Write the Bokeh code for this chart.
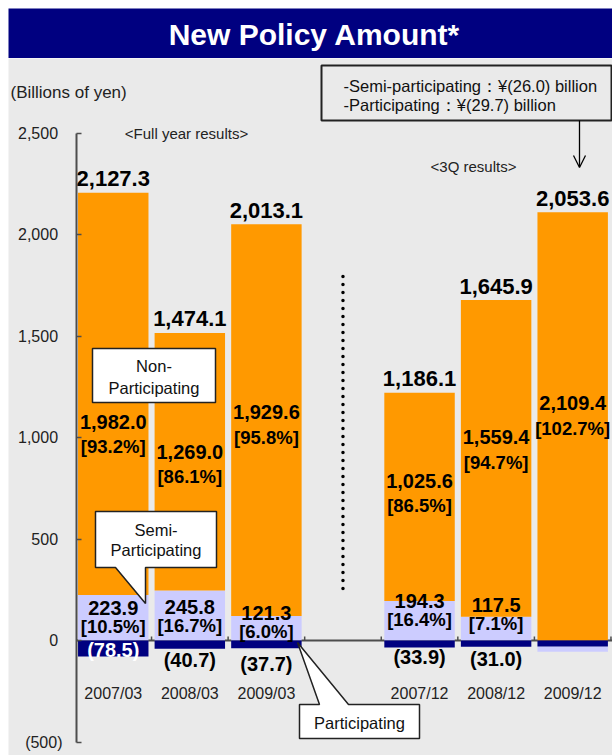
from bokeh.plotting import figure
from bokeh.layouts import column, row
from bokeh.models import Range1d, FixedTicker, Arrow, OpenHead, Spacer
from bokeh.core.properties import value
from bokeh.embed import file_html
from bokeh.resources import INLINE

# ---------------- data ----------------
periods = ["2007/03", "2008/03", "2009/03", "2007/12", "2008/12", "2009/12"]
groups = ["full", "full", "full", "3q", "3q", "3q"]
total = [2127.3, 1474.1, 2013.1, 1186.1, 1645.9, 2053.6]
non_participating = [1982.0, 1269.0, 1929.6, 1025.6, 1559.4, 2109.4]
non_pct = [93.2, 86.1, 95.8, 86.5, 94.7, 102.7]
semi_participating = [223.9, 245.8, 121.3, 194.3, 117.5, -26.0]
semi_pct = [10.5, 16.7, 6.0, 16.4, 7.1, None]
participating = [-78.5, -40.7, -37.7, -33.9, -31.0, -29.7]
y_ticks = [-500, 0, 500, 1000, 1500, 2000, 2500]
note_lines = ["-Semi-participating\uff1a\u00a5(26.0) billion",
              "-Participating\uff1a\u00a5(29.7) billion"]

# ---------------- style / layout ----------------
BG = "#EAEAEA"
ORANGE = "#FF9900"
LAV = "#CCCCFF"
NAVY = "#000080"
AXIS = "#4D4D4D"
FONT = "Liberation Sans"

MARGIN = 8
FIG_W = 604
TITLE_H = 50
MAIN_H = 697
AXIS_PX = 76            # page x of the value axis
PLOT_X0, PLOT_X1 = -0.48, 6.52   # slot units at axis and right edge
UPP_X = (PLOT_X1 - PLOT_X0) / (MARGIN + FIG_W - AXIS_PX)
X0 = PLOT_X0 - (AXIS_PX - MARGIN) * UPP_X
X1 = PLOT_X1
Y0, Y1 = -566.5, 2867.0
PAGE_FT = MARGIN + TITLE_H
UPP_Y = (Y1 - Y0) / MAIN_H


def px_x(px):
    return X0 + (px - MARGIN) * UPP_X


def px_y(py):
    return Y1 - (py - PAGE_FT) * UPP_Y


def dpx(d):
    return -d * UPP_Y


# label pixel offsets (layout only)
non_dy = [28, -10, -8, -16, -21, -23]
semi_dy = [-33, -34, -28, -40, -36, 0]
part_dy = [9, 19, 23, 16, 18, 0]

# slot positions: one empty slot between the two groups
slots = []
k = 0
prev = None
gap_slot = None
for g in groups:
    if prev is not None and g != prev:
        gap_slot = k
        k += 1
    slots.append(k)
    k += 1
    prev = g

BAR_W = 0.92

# ---------------- title figure ----------------
tf = figure(width=FIG_W, height=TITLE_H, x_range=Range1d(0, FIG_W), y_range=Range1d(0, TITLE_H),
            toolbar_location=None, output_backend="svg", min_border=0,
            x_axis_location=None, y_axis_location=None,
            background_fill_color=NAVY, border_fill_color=NAVY, outline_line_color=None)
tf.grid.visible = False
tf.text(x=[FIG_W / 2 + 4], y=[TITLE_H / 2 - 1], text=["New Policy Amount*"],
        text_font=value(FONT), text_font_style="bold", text_font_size="30px",
        text_color="white", text_align="center", text_baseline="middle")

# ---------------- main figure ----------------
p = figure(width=FIG_W, height=MAIN_H, x_range=Range1d(X0, X1), y_range=Range1d(Y0, Y1),
           toolbar_location=None, output_backend="svg", min_border=0,
           x_axis_location=None,
           background_fill_color=BG, border_fill_color=BG, outline_line_color=None)
p.grid.visible = False

ax = p.yaxis[0]
ax.fixed_location = PLOT_X0
ax.ticker = FixedTicker(ticks=y_ticks)
ax.major_label_overrides = {t: ("({:,})".format(-t) if t < 0 else "{:,}\u00a0".format(t)) for t in y_ticks}
ax.bounds = (min(y_ticks), max(y_ticks))
ax.axis_line_color = AXIS
ax.axis_line_width = 2
ax.major_tick_line_color = AXIS
ax.major_tick_line_width = 1.5
ax.major_tick_in = 5
ax.major_tick_out = 0
ax.minor_tick_line_color = None
ax.major_label_standoff = 14
ax.major_label_text_font = FONT
ax.major_label_text_font_size = "16px"
ax.major_label_text_color = "#222222"

# zero line with category-boundary ticks
p.segment(x0=[PLOT_X0], y0=[0], x1=[PLOT_X1], y1=[0], line_color=AXIS, line_width=2)
bounds_x = [s + 0.5 for s in range(slots[-1] + 1)]
p.segment(x0=bounds_x, y0=[0] * len(bounds_x), x1=bounds_x, y1=[dpx(-4)] * len(bounds_x),
          line_color=AXIS, line_width=1.5)

# stacked bars
pos_base = [max(s, 0) for s in semi_participating]
non_top = [b + n for b, n in zip(pos_base, non_participating)]
semi_bottom = [0 if s > 0 else pp + s for s, pp in zip(semi_participating, participating)]
semi_top = [s if s > 0 else pp for s, pp in zip(semi_participating, participating)]

p.vbar(x=slots, width=BAR_W, bottom=semi_bottom, top=semi_top, fill_color=LAV, line_color=None)
p.vbar(x=slots, width=BAR_W, bottom=pos_base, top=non_top, fill_color=ORANGE, line_color=None)
p.vbar(x=slots, width=BAR_W, bottom=participating, top=[0] * len(slots), fill_color=NAVY, line_color=None)

bold = dict(text_font=value(FONT), text_font_style="bold", text_align="center",
            text_baseline="middle")

# totals
p.text(x=slots, y=[t + dpx(-14) for t in non_top], text=["{:,.1f}".format(v) for v in total],
       text_font_size="22px", text_color="black", **bold)

# non-participating
mid = [b + n / 2 for b, n in zip(pos_base, non_participating)]
p.text(x=slots, y=[m + dpx(d) for m, d in zip(mid, non_dy)],
       text=["{:,.1f}".format(v) for v in non_participating], text_font_size="20px",
       text_color="black", **bold)
p.text(x=slots, y=[m + dpx(d + 25) for m, d in zip(mid, non_dy)],
       text=["[{:.1f}%]".format(v) for v in non_pct], text_font_size="18.5px",
       text_color="black", **bold)

# semi-participating & participating labels
shown = [i for i, v in enumerate(semi_pct) if v is not None]
p.text(x=[slots[i] for i in shown], y=[dpx(semi_dy[i]) for i in shown],
       text=["{:,.1f}".format(semi_participating[i]) for i in shown], text_font_size="20px",
       text_color="black", **bold)
p.text(x=[slots[i] for i in shown], y=[dpx(semi_dy[i] + 19) for i in shown],
       text=["[{:.1f}%]".format(semi_pct[i]) for i in shown], text_font_size="18.5px",
       text_color="black", **bold)
p.text(x=[slots[i] for i in shown], y=[dpx(part_dy[i]) for i in shown],
       text=["({:,.1f})".format(-participating[i]) for i in shown], text_font_size="20px",
       text_color=["white" if i == 0 else "black" for i in shown], **bold)

# category labels
p.text(x=slots, y=[dpx(53)] * len(slots), text=periods, text_font=value(FONT),
       text_font_size="16px", text_color="#222222", text_align="center", text_baseline="middle")

# unit label and group headers
p.text(x=[px_x(10)], y=[px_y(92)], text=["(Billions of yen)"], text_font=value(FONT),
       text_font_size="17px", text_color="#222222", text_align="left", text_baseline="middle")
p.text(x=[px_x(186), px_x(473)], y=[px_y(133), px_y(166)],
       text=["<Full year results>", "<3Q results>"], text_font=value(FONT),
       text_font_size="15px", text_color="#222222", text_align="center", text_baseline="middle")

# dotted separator
p.segment(x0=[gap_slot], y0=[px_y(276)], x1=[gap_slot], y1=[px_y(593)],
          line_color="black", line_width=3.5, line_dash="0 8", line_cap="round")

# note box with arrow
p.quad(left=[px_x(321)], right=[px_x(611)], top=[px_y(65)], bottom=[px_y(120)],
       fill_color=BG, line_color="#222222", line_width=2)
p.text(x=[px_x(343)] * 2, y=[px_y(85), px_y(104)], text=note_lines, text_font=value(FONT),
       text_font_size="16.5px", text_color="#111111", text_align="left", text_baseline="middle")
p.add_layout(Arrow(x_start=px_x(579), y_start=px_y(120), x_end=px_x(579), y_end=px_y(167),
                   line_width=1.3, line_color="black",
                   end=OpenHead(size=12, line_width=1.3, line_color="black")))


# callouts
def poly(pts):
    return [px_x(a) for a, b in pts], [px_y(b) for a, b in pts]


cx, cy = poly([(92, 348), (215, 348), (215, 402), (92, 402)])
p.patch(cx, cy, fill_color="white", line_color="#222222", line_width=1.5)
cx, cy = poly([(95, 511), (216, 511), (216, 567), (145, 567), (145, 603), (115, 567), (95, 567)])
p.patch(cx, cy, fill_color="white", line_color="#222222", line_width=1.5)
cx, cy = poly([(299, 704), (319, 704), (297, 642), (348, 704), (419, 704), (419, 738), (299, 738)])
p.patch(cx, cy, fill_color="white", line_color="#222222", line_width=1.5)

p.text(x=[px_x(153.5), px_x(153.5), px_x(155.5), px_x(155.5), px_x(359)],
       y=[px_y(365), px_y(387), px_y(529), px_y(549), px_y(722)],
       text=["Non-", "Participating", "Semi-", "Participating", "Participating"],
       text_font=value(FONT), text_font_size="16.5px", text_color="#111111",
       text_align="center", text_baseline="middle")

layout = row(Spacer(width=MARGIN, height=MARGIN),
             column(Spacer(width=FIG_W, height=MARGIN), tf, p, spacing=0), spacing=0)
open("out.html", "w").write(file_html(layout, INLINE))
